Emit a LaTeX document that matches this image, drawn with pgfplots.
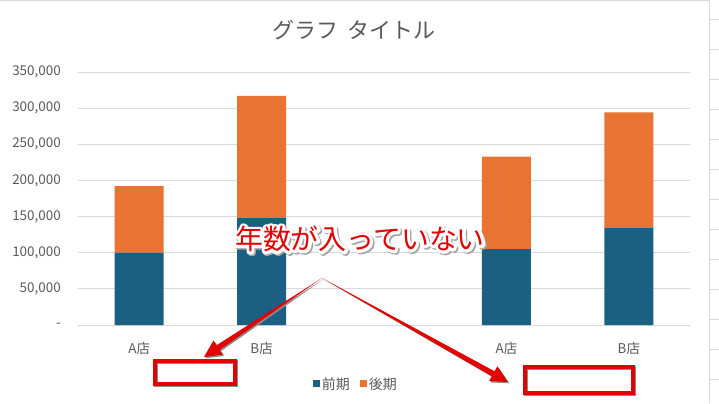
\documentclass[border=0pt]{standalone}
\usepackage{fontspec}
\setmainfont{Noto Sans CJK JP}
\usepackage{pgfplots}
\pgfplotsset{compat=1.18}
\usetikzlibrary{calc}
\definecolor{qian}{HTML}{1B5F83}
\definecolor{hou}{HTML}{E97332}
\definecolor{txt}{HTML}{595959}
\definecolor{grd}{HTML}{D9D9D9}
\definecolor{ann}{HTML}{E50000}
\pgfplotsset{sqleg/.style={legend image code/.code={\fill[##1] (0bp,-3.5bp) rectangle (7bp,3.5bp);}}}
\newcommand\taparrow[2]{%
  \coordinate (S) at (#1); \coordinate (T) at (#2);
  \coordinate (B) at ($(T)!17bp!(S)$);
  \begin{scope}[transform canvas={shift={(1.3bp,-1.3bp)}}]
  \fill[black!45] (S) -- ($(B)!2.8bp!90:(T)$) -- ($(B)!8.5bp!90:(T)$) -- (T) -- ($(B)!8.5bp!-90:(T)$) -- ($(B)!2.8bp!-90:(T)$) -- cycle;
  \end{scope}
  \fill[ann] (S) -- ($(B)!2.8bp!90:(T)$) -- ($(B)!8.5bp!90:(T)$) -- (T) -- ($(B)!8.5bp!-90:(T)$) -- ($(B)!2.8bp!-90:(T)$) -- cycle;
}
\begin{document}
\begin{tikzpicture}[x=1bp,y=1bp]
\path[use as bounding box] (0,0) rectangle (719,403);
\fill[white] (0,0) rectangle (719,403);
\begin{axis}[
  at={(78bp,78bp)}, anchor=south west,
  scale only axis, width=612bp, height=253bp,
  xmin=-0.5, xmax=4.5, ymin=0, ymax=350000,
  ybar stacked, bar width=49bp,
  scaled y ticks=false,
  xtick={0,1,3,4}, xticklabels={A店,B店,A店,B店},
  ytick={0,50000,100000,150000,200000,250000,300000,350000},
  yticklabels={-,{50,000},{100,000},{150,000},{200,000},{250,000},{300,000},{350,000}},
  ymajorgrids, grid style={grd, line width=0.8bp},
  axis line style={draw=none}, major tick length=0pt,
  ticklabel style={font=\fontsize{13.5}{14}\selectfont, text=txt},
  yticklabel style={anchor=east, inner sep=0pt, xshift=-17bp},
  xticklabel style={anchor=center, inner sep=0pt, yshift=-23bp},
  legend style={at={(0.454,-0.233)}, anchor=center, draw=none, fill=none,
    legend columns=2, font=\fontsize{14}{14}\selectfont, text=txt,
    /tikz/every even column/.append style={column sep=8bp}},
]
\addplot[fill=qian, draw=none, sqleg] coordinates {(0,100000) (1,148000) (3,105000) (4,134000)};
\addplot[fill=hou, draw=none, sqleg] coordinates {(0,92000) (1,169000) (3,128000) (4,160000)};
\legend{前期,後期}
\end{axis}
% title
\node[text=txt, font=\fontsize{22}{22}\selectfont] at (354,373) {グラフ\hspace{0.45em}タイトル};
% chart border and sheet lines
\draw[grd, line width=0.8bp] (0,402.6) -- (709.5,402.6) -- (709.5,0);
\foreach \k in {0,...,12} \draw[grd, line width=0.8bp] (709.5,384-30*\k) -- (719,384-30*\k);
% annotation arrows
\taparrow{322,125}{204,46}
\taparrow{322,125}{508,21}
% rectangles
\begin{scope}[transform canvas={shift={(1.3bp,-1.3bp)}}]
\draw[black!45, line width=4bp] (155,19) rectangle (235,42);
\draw[black!45, line width=4bp] (525,10) rectangle (633,36);
\end{scope}
\draw[ann, line width=4bp] (155,19) rectangle (235,42);
\draw[ann, line width=4bp] (525,10) rectangle (633,36);
% annotation text with white outline (stroked glyphs)
\node[text=black!35, font=\fontsize{28}{28}\selectfont] at (361.5,162.5) {\special{pdf:code q 5.5 w 1 j 2 Tr}年数が入っていない\special{pdf:code Q}};
\node[text=white, font=\fontsize{28}{28}\selectfont] at (360,164) {\special{pdf:code q 5.5 w 1 j 2 Tr}年数が入っていない\special{pdf:code Q}};
\node[text=ann, font=\fontsize{28}{28}\selectfont] at (360,164) {年数が入っていない};
\end{tikzpicture}
\end{document}
